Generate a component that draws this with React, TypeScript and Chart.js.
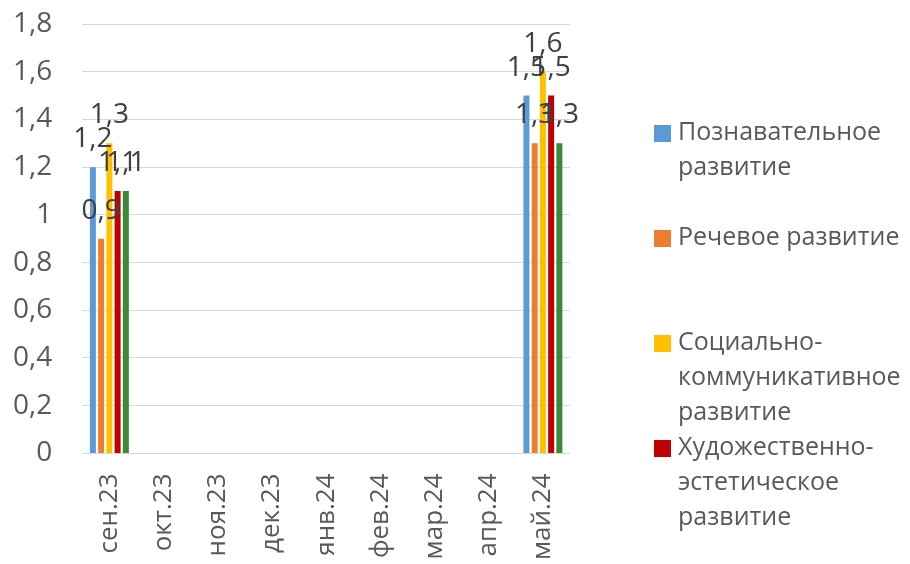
import React, { useEffect, useRef } from 'react';
import { Chart, registerables } from 'chart.js';

Chart.register(...registerables);

const categories = ['сен.23', 'окт.23', 'ноя.23', 'дек.23', 'янв.24', 'фев.24', 'мар.24', 'апр.24', 'май.24'];
const seriesNames = [
  'Познавательное развитие',
  'Речевое развитие',
  'Социально-коммуникативное развитие',
  'Художественно-эстетическое развитие',
  'Физическое развитие',
];
const legendLines = [
  ['Познавательное', 'развитие'],
  ['Речевое развитие'],
  ['Социально-', 'коммуникативное', 'развитие'],
  ['Художественно-', 'эстетическое', 'развитие'],
  ['Физическое', 'развитие'],
];
const cognitive = [1.2, null, null, null, null, null, null, null, 1.5];
const speech = [0.9, null, null, null, null, null, null, null, 1.3];
const social = [1.3, null, null, null, null, null, null, null, 1.6];
const artistic = [1.1, null, null, null, null, null, null, null, 1.5];
const physical = [1.1, null, null, null, null, null, null, null, 1.3];
const seriesColors = ['#5B9BD5', '#ED7D31', '#FFC000', '#C00000', '#3B8A3B'];
const yMin = 0;
const yMax = 1.8;
const yStep = 0.2;

const FONT = "'Open Sans', sans-serif";

const fmt = (v: number) => String(Math.round(v * 10) / 10).replace('.', ',');

const dataLabelsPlugin = {
  id: 'dataLabelsCustom',
  afterDatasetsDraw(chart: any) {
    const ctx = chart.ctx;
    ctx.save();
    ctx.font = `28px ${FONT}`;
    ctx.fillStyle = '#404040';
    ctx.textAlign = 'center';
    ctx.textBaseline = 'alphabetic';
    chart.data.datasets.forEach((ds: any, di: number) => {
      const meta = chart.getDatasetMeta(di);
      meta.data.forEach((el: any, i: number) => {
        const v = ds.data[i];
        if (v === null || v === undefined) return;
        ctx.fillText(fmt(v), el.x, el.y - 20);
      });
    });
    ctx.restore();
  },
};

const legendPlugin = {
  id: 'legendCustom',
  afterDraw(chart: any) {
    const ctx = chart.ctx;
    const boxX = 654;
    const textX = 678;
    const firstY = 133;
    const itemStep = 105;
    const lineStep = 35;
    ctx.save();
    ctx.font = `25px ${FONT}`;
    ctx.textAlign = 'left';
    ctx.textBaseline = 'middle';
    chart.data.datasets.forEach((ds: any, di: number) => {
      const lines = legendLines[di];
      const y0 = firstY + itemStep * di;
      const lastY = y0 + lineStep * (lines.length - 1);
      if (lastY + 16 > chart.height) return;
      ctx.fillStyle = ds.backgroundColor;
      ctx.fillRect(boxX, y0 - 8, 17, 17);
      ctx.fillStyle = '#595959';
      lines.forEach((t: string, j: number) => {
        ctx.fillText(t, textX, y0 + lineStep * j);
      });
    });
    ctx.restore();
  },
};

export default function App() {
  const ref = useRef<HTMLCanvasElement | null>(null);
  useEffect(() => {
    if (!ref.current) return;
    const series = [cognitive, speech, social, artistic, physical];
    const chart = new Chart(ref.current, {
      type: 'bar',
      data: {
        labels: categories,
        datasets: series.map((d, i) => ({
          label: seriesNames[i],
          data: d,
          backgroundColor: seriesColors[i],
          borderWidth: 0,
          categoryPercentage: 0.76,
          barPercentage: 0.73,
        })),
      },
      options: {
        responsive: false,
        animation: false,
        layout: { padding: { left: 13, top: 24, right: 340, bottom: 4 } },
        plugins: {
          legend: { display: false },
          tooltip: { enabled: false },
          title: { display: false },
        },
        scales: {
          x: {
            grid: { display: false, drawTicks: true, tickLength: 20 },
            border: { display: false },
            ticks: {
              maxRotation: 90,
              minRotation: 90,
              padding: 0,
              color: '#595959',
              font: { family: FONT, size: 26 },
              autoSkip: false,
            },
          },
          y: {
            min: yMin,
            max: yMax,
            grid: { color: '#D9D9D9', lineWidth: 1, drawTicks: true, tickLength: 30, tickColor: 'rgba(0,0,0,0)' },
            border: { display: false },
            ticks: {
              stepSize: yStep,
              padding: 0,
              color: '#595959',
              font: { family: FONT, size: 28 },
              callback: (v: any) => fmt(Number(v)),
            },
          },
        },
      },
      plugins: [dataLabelsPlugin, legendPlugin],
    });
    return () => chart.destroy();
  }, []);
  return (
    <div style={{ position: 'fixed', left: 0, top: 0, width: 910, height: 564, background: '#fff' }}>
      <canvas ref={ref} width={910} height={564} />
    </div>
  );
}
